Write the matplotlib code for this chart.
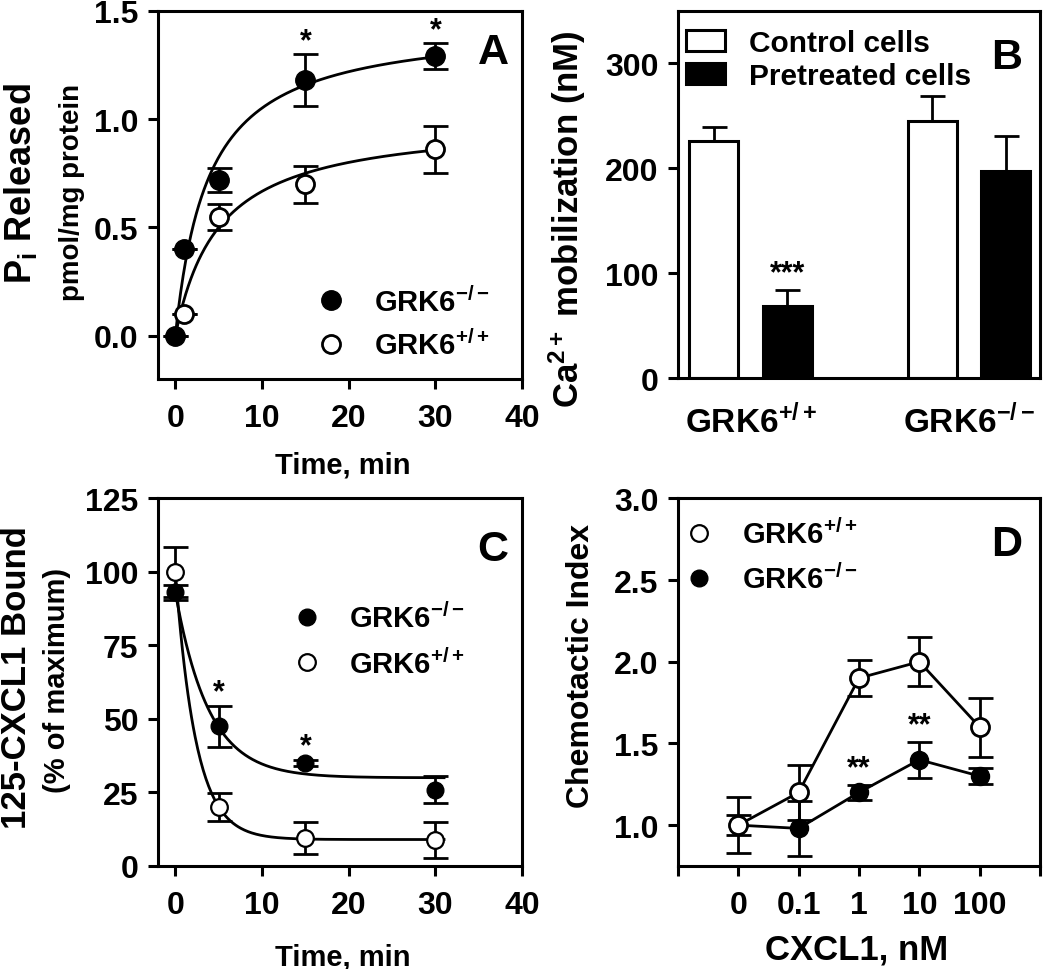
import numpy as np
import matplotlib
matplotlib.use("Agg")
import matplotlib.pyplot as plt
from matplotlib.lines import Line2D
from matplotlib.patches import Patch

plt.rcParams['font.family'] = 'Liberation Sans'
plt.rcParams['font.weight'] = 'bold'
plt.rcParams['mathtext.fontset'] = 'custom'
plt.rcParams['mathtext.rm'] = 'Liberation Sans:bold'
plt.rcParams['mathtext.it'] = 'Liberation Sans:bold'
plt.rcParams['mathtext.bf'] = 'Liberation Sans:bold'
plt.rcParams['axes.linewidth'] = 2.2

KO = 'GRK6$^{-/-}$'
WT = 'GRK6$^{+/+}$'

# ---- panel A: Pi release ----
a_time = [0, 1, 5, 15, 30]
a_ko = [0.0, 0.40, 0.72, 1.18, 1.29]
a_ko_err = [0.0, 0.0, 0.055, 0.12, 0.06]
a_wt_time = [1, 5, 15, 30]
a_wt = [0.10, 0.55, 0.70, 0.86]
a_wt_err = [0.0, 0.06, 0.085, 0.11]
a_fit_ko = (1.45, 3.8)   # Bmax, K of hyperbola fit
a_fit_wt = (1.0, 5.0)
a_stars_t = [15, 30]

# ---- panel B: Ca2+ mobilization ----
b_groups = [WT, KO]
b_control = [226, 245]
b_control_err = [13, 24]
b_pretreated = [69, 197]
b_pretreated_err = [15, 34]

# ---- panel C: 125-CXCL1 bound ----
c_time = [0, 5, 15, 30]
c_ko = [93, 47.5, 35, 26]
c_ko_err = [2.5, 7, 1, 4.5]
c_wt = [100, 20, 9.5, 8.8]
c_wt_err = [8.5, 4.8, 5.3, 6]
c_fit_ko = (93, 30, 0.26)   # y0, plateau, k
c_fit_wt = (100, 9, 0.42)
c_stars_t = [5, 15]

# ---- panel D: chemotaxis ----
d_conc = ['0', '0.1', '1', '10', '100']
d_wt = [1.0, 1.2, 1.9, 2.0, 1.6]
d_wt_err = [0.17, 0.17, 0.11, 0.15, 0.18]
d_ko = [1.0, 0.98, 1.2, 1.4, 1.3]
d_ko_err = [0.06, 0.17, 0.045, 0.11, 0.05]
d_stars_idx = [2, 3]

TICK_FS = 23
LEG_FS = 21
MS = 14

fig = plt.figure(figsize=(10.5, 9.7), dpi=100)
axA = fig.add_axes([0.1505, 0.608, 0.3467, 0.380])
axB = fig.add_axes([0.6457, 0.609, 0.3448, 0.379])
axC = fig.add_axes([0.1505, 0.1062, 0.3467, 0.379])
axD = fig.add_axes([0.6457, 0.1062, 0.3448, 0.379])

for ax in (axA, axB, axC, axD):
    ax.tick_params(width=2.2, length=7, labelsize=TICK_FS, pad=7)

ebk = dict(ecolor='black', elinewidth=2, capsize=9, capthick=2, linestyle='none')


def leg(ax, handles, labels, anchor, fs=LEG_FS, **kw):
    return ax.legend(handles, labels, loc='center left', bbox_to_anchor=anchor,
                     frameon=False, borderpad=0, borderaxespad=0,
                     prop={'size': fs, 'weight': 'bold'}, **kw)


# ---------------- A ----------------
ax = axA
t = np.linspace(0, 30, 300)
ax.plot(t, a_fit_ko[0] * t / (a_fit_ko[1] + t), color='black', lw=2)
ax.plot(t, a_fit_wt[0] * t / (a_fit_wt[1] + t), color='black', lw=2)
ax.errorbar(a_wt_time, a_wt, yerr=a_wt_err, **ebk)
ax.errorbar(a_time, a_ko, yerr=a_ko_err, **ebk)
ax.plot(a_wt_time, a_wt, 'o', ms=MS - 1, mfc='white', mec='black', mew=2, ls='none')
ax.plot(a_time, a_ko, 'o', ms=MS, mfc='black', mec='black', ls='none')
for ts in a_stars_t:
    i = a_time.index(ts)
    ax.text(ts, a_ko[i] + a_ko_err[i] - 0.01, '*', ha='center', va='bottom', fontsize=22)
ax.set_xlim(-2, 40)
ax.set_ylim(-0.2, 1.5)
ax.set_xticks([0, 10, 20, 30, 40])
ax.set_yticks([0.0, 0.5, 1.0, 1.5])
ax.set_yticklabels(['0.0', '0.5', '1.0', '1.5'])
ax.tick_params(axis='x', pad=10)
ax.text(-0.379, 0.534, 'P$_{\\mathrm{i}}$ Released', transform=ax.transAxes,
        rotation=90, ha='center', va='center', fontsize=26)
ax.text(-0.236, 0.51, 'pmol/mg protein', transform=ax.transAxes,
        rotation=90, ha='center', va='center', fontsize=20)
ax.text(0.508, -0.232, 'Time, min', transform=ax.transAxes,
        ha='center', va='center', fontsize=21)
ax.text(0.92, 0.889, 'A', transform=ax.transAxes, ha='center', va='center', fontsize=31)
hk = Line2D([], [], marker='o', ls='none', ms=MS, mfc='black', mec='black')
hw = Line2D([], [], marker='o', ls='none', ms=MS - 1, mfc='white', mec='black', mew=2)
leg(ax, [hk, hw], [KO, WT], (0.434, 0.152), handlelength=1.0, handletextpad=1.0,
    labelspacing=0.45)

# ---------------- B ----------------
ax = axB
pos_c = [0, 4.45]
pos_p = [1.5, 5.95]
ax.bar(pos_c, b_control, width=1.0, color='white', edgecolor='black', linewidth=2.2,
       yerr=[[0] * len(b_control_err), b_control_err],
       error_kw=dict(elinewidth=2, capsize=9, capthick=2))
ax.bar(pos_p, b_pretreated, width=1.0, color='black', edgecolor='black', linewidth=2.2,
       yerr=[[0] * len(b_pretreated_err), b_pretreated_err],
       error_kw=dict(elinewidth=2, capsize=9, capthick=2))
ax.text(pos_p[0], b_pretreated[0] + b_pretreated_err[0] + 2, '***', ha='center',
        va='bottom', fontsize=22)
ax.set_xlim(-0.73, 6.65)
ax.set_ylim(0, 350)
ax.set_yticks([0, 100, 200, 300])
ax.set_xticks([(pos_c[0] + pos_p[0]) / 2, (pos_c[1] + pos_p[1]) / 2])
ax.set_xticklabels(b_groups, fontsize=24)
ax.tick_params(axis='x', length=0, pad=18)
ax.text(-0.307, 0.435, 'Ca$^{2+}$ mobilization (nM)', transform=ax.transAxes,
        rotation=90, ha='center', va='center', fontsize=25)
ax.text(0.909, 0.875, 'B', transform=ax.transAxes, ha='center', va='center', fontsize=31)
pc = Patch(facecolor='white', edgecolor='black', linewidth=2.2)
pp = Patch(facecolor='black', edgecolor='black', linewidth=2.2)
leg(ax, [pc, pp], ['Control cells', 'Pretreated cells'], (0.022, 0.867), fs=21.5,
    handlelength=1.3, handleheight=0.7, handletextpad=0.8, labelspacing=0.15)

# ---------------- C ----------------
ax = axC
t = np.linspace(0, 31, 300)
ax.plot(t, c_fit_ko[1] + (c_fit_ko[0] - c_fit_ko[1]) * np.exp(-c_fit_ko[2] * t),
        color='black', lw=2)
ax.plot(t, c_fit_wt[1] + (c_fit_wt[0] - c_fit_wt[1]) * np.exp(-c_fit_wt[2] * t),
        color='black', lw=2)
ax.errorbar(c_time, c_ko, yerr=c_ko_err, **ebk)
ax.errorbar(c_time, c_wt, yerr=c_wt_err, **ebk)
ax.plot(c_time, c_ko, 'o', ms=MS - 2, mfc='black', mec='black', ls='none')
ax.plot(c_time, c_wt, 'o', ms=MS - 2, mfc='white', mec='black', mew=1.6, ls='none')
for ts in c_stars_t:
    i = c_time.index(ts)
    ax.text(ts, c_ko[i] + c_ko_err[i] - 0.5, '*', ha='center', va='bottom', fontsize=22)
ax.set_xlim(-2, 40)
ax.set_ylim(0, 125)
ax.set_xticks([0, 10, 20, 30, 40])
ax.set_yticks([0, 25, 50, 75, 100, 125])
ax.tick_params(axis='x', pad=10)
ax.text(-0.39, 0.514, '125-CXCL1 Bound', transform=ax.transAxes,
        rotation=90, ha='center', va='center', fontsize=25)
ax.text(-0.277, 0.508, '(% of maximum)', transform=ax.transAxes,
        rotation=90, ha='center', va='center', fontsize=21)
ax.text(0.508, -0.245, 'Time, min', transform=ax.transAxes,
        ha='center', va='center', fontsize=21)
ax.text(0.92, 0.861, 'C', transform=ax.transAxes, ha='center', va='center', fontsize=31)
hk = Line2D([], [], marker='o', ls='none', ms=MS - 2, mfc='black', mec='black')
hw = Line2D([], [], marker='o', ls='none', ms=MS - 2, mfc='white', mec='black', mew=1.6)
leg(ax, [hk, hw], [KO, WT], (0.368, 0.613), handlelength=1.0, handletextpad=0.95,
    labelspacing=0.5)

# ---------------- D ----------------
ax = axD
x = np.arange(len(d_conc))
ax.errorbar(x, d_wt, yerr=d_wt_err, **ebk)
ax.errorbar(x, d_ko, yerr=d_ko_err, **ebk)
ax.plot(x, d_ko, '-o', color='black', lw=2, ms=MS - 1, mfc='black', mec='black')
ax.plot(x, d_wt, '-o', color='black', lw=2, ms=MS - 1, mfc='white', mec='black', mew=2)
for i in d_stars_idx:
    ax.text(i, d_ko[i] + d_ko_err[i] + 0.01, '**', ha='center', va='bottom', fontsize=22)
ax.set_xlim(-1, 5)
ax.set_ylim(0.75, 3.0)
ax.set_xticks(np.arange(-1, 6))
ax.set_xticklabels([''] + d_conc + [''])
ax.set_yticks([1.0, 1.5, 2.0, 2.5, 3.0])
ax.set_yticklabels(['1.0', '1.5', '2.0', '2.5', '3.0'])
ax.tick_params(axis='x', pad=10)
ax.text(-0.268, 0.546, 'Chemotactic Index', transform=ax.transAxes,
        rotation=90, ha='center', va='center', fontsize=23)
ax.text(0.494, -0.225, 'CXCL1, nM', transform=ax.transAxes,
        ha='center', va='center', fontsize=25)
ax.text(0.909, 0.875, 'D', transform=ax.transAxes, ha='center', va='center', fontsize=31)
hw = Line2D([], [], marker='o', ls='none', ms=MS - 2, mfc='white', mec='black', mew=1.6)
hk = Line2D([], [], marker='o', ls='none', ms=MS - 2, mfc='black', mec='black')
leg(ax, [hw, hk], [WT, KO], (0.019, 0.843), handlelength=1.0, handletextpad=0.95,
    labelspacing=0.5)

fig.savefig('out.png', dpi=100)
